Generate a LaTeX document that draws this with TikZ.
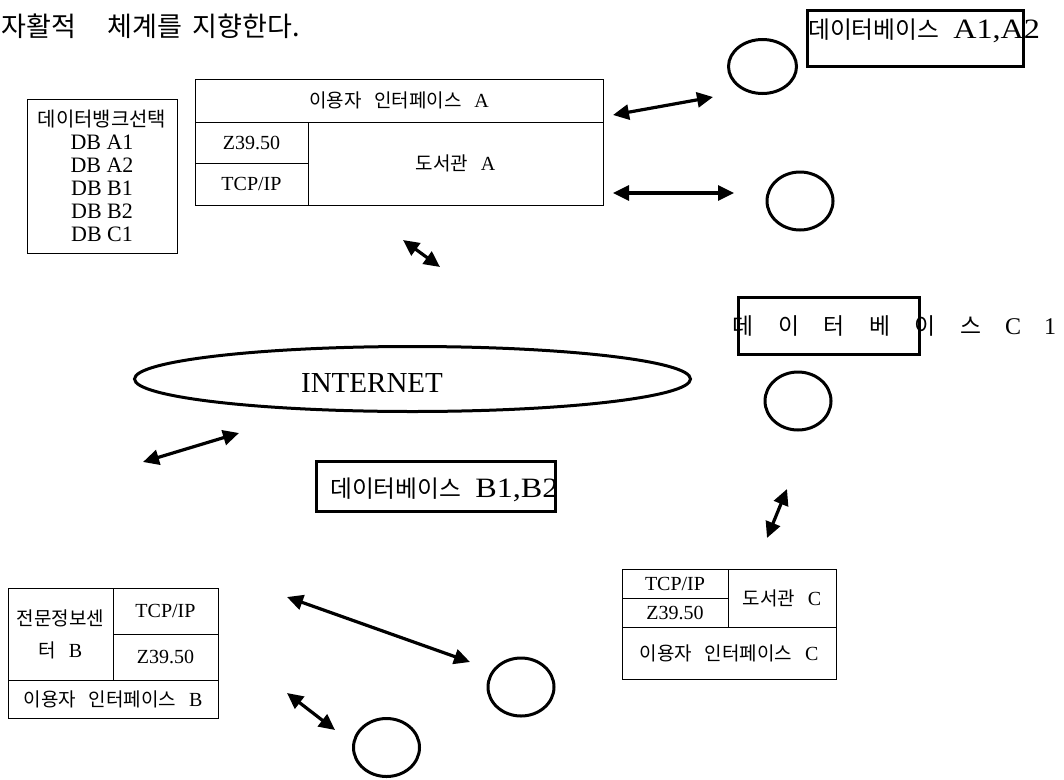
\documentclass[tikz,border=0pt]{standalone}
\usepackage{fontspec}
\setmainfont{Liberation Serif}
\newfontfamily\kr{Noto Sans CJK KR}[Scale=0.95,WordSpace=3]
\newfontfamily\wide{Liberation Serif}[FakeStretch=1.15]
\usetikzlibrary{shapes.geometric,arrows.meta}
% Korean runs are set in the CJK face, Latin runs in the serif face
\newcommand\K[1]{{\kr #1}}
\newcommand\Fs[1]{\fontsize{#1}{#1}\selectfont}
% label of a database box: Korean word, then the wide Latin part
\newcommand\DBname[1]{{\kr\Fs{25}데이터베이스}\hspace*{14pt}{\wide #1}}
\begin{document}
\begin{tikzpicture}[x=1pt,y=-1pt,
  cell/.style={draw=black, line width=0.9pt, inner sep=0pt, align=center, font=\Fs{20}},
  dbbox/.style={draw=black, line width=3.2pt, inner sep=0pt},
  dblabel/.style={inner sep=0pt, anchor=west, font=\Fs{28}},
  site/.style={ellipse, draw=black, line width=3pt, inner sep=0pt, minimum width=66pt, minimum height=58pt},
  link/.style={line width=3.2pt, {Triangle[length=16pt,width=15pt]}-{Triangle[length=16pt,width=15pt]}}]
\useasboundingbox (0,0) rectangle (1064,779);

% heading line
\node[inner sep=0pt, anchor=west, font=\Fs{28.5}] (title) at (1,26)
  {\K{자활적}\hspace*{32pt}\K{체계를}\hspace*{10pt}\K{지향한다.}};

% data bank selection list
\node[cell, font=\fontsize{22}{23}\selectfont, minimum width=150pt, minimum height=154pt] (bank) at (102,176)
  {{\kr\fontsize{21}{23}\selectfont 데이터뱅크선택}\\DB A1\\DB A2\\DB B1\\DB B2\\DB C1};

% library A
\node[cell, minimum width=408pt, minimum height=43pt] (uiA) at (399,100.5) {\K{이용자 인터페이스 }A};
\node[cell, minimum width=113pt, minimum height=41pt] (zA) at (251.5,142.5) {Z39.50};
\node[cell, minimum width=113pt, minimum height=42pt] (tA) at (251.5,184) {TCP/IP};
\node[cell, minimum width=295pt, minimum height=83pt] (libA) at (455.5,163.5) {\K{도서관 }A};

% database A
\node[dbbox, minimum width=216pt, minimum height=56pt] (dbA) at (915.5,38.5) {};
\node[dblabel] (dbAtxt) at (808,31) {\DBname{A1,A2}};
\node[site, minimum height=54pt, minimum width=68pt] (s1) at (762.5,66.5) {};
\node[site] (s2) at (800,201) {};

% internet
\node[ellipse, draw=black, line width=3pt, inner sep=0pt, minimum width=556pt, minimum height=65pt] (net) at (412.5,379) {};
\node[inner sep=0pt, font=\Fs{29}] (netlbl) at (372,383) {INTERNET};

% database C
\node[dbbox, minimum width=181pt, minimum height=57pt] (dbC) at (829,326) {};
\node[inner sep=0pt, anchor=west, font=\Fs{24}] (dbCtxt) at (720.25,326)
  {\K{\makebox[45.5pt]{데}\makebox[45.5pt]{이}\makebox[45.5pt]{터}\makebox[45.5pt]{베}\makebox[45.5pt]{이}\makebox[45.5pt]{스}}\makebox[39.5pt]{C}\makebox[34.5pt]{1}};
\node[site] (s3) at (798,401) {};

% database B
\node[dbbox, minimum width=239pt, minimum height=50pt] (dbB) at (436,486.5) {};
\node[dblabel] (dbBtxt) at (330,490) {\DBname{B1,B2}};

% library C
\node[cell, minimum width=106pt, minimum height=29pt] (tC) at (675,583.5) {TCP/IP};
\node[cell, minimum width=106pt, minimum height=29pt] (zC) at (675,612.5) {Z39.50};
\node[cell, minimum width=108pt, minimum height=58pt] (libC) at (782,598) {\K{도서관 }C};
\node[cell, minimum width=214pt, minimum height=52pt] (uiC) at (729,653) {\K{이용자 인터페이스 }C};

% information centre B
\node[cell, font=\fontsize{20}{32}\selectfont, minimum width=105pt, minimum height=92pt] (ctrB) at (60.5,634) {\K{전문정보센}\\\K{터 }B};
\node[cell, minimum width=105pt, minimum height=46pt] (tB) at (165.5,611) {TCP/IP};
\node[cell, minimum width=105pt, minimum height=46pt] (zB) at (165.5,657) {Z39.50};
\node[cell, minimum width=210pt, minimum height=38pt] (uiB) at (113,699) {\K{이용자 인터페이스 }B};

\node[site] (s5) at (521,687) {};
\node[site] (s4) at (386.5,747.5) {};

% two-headed links
\coordinate (a1s) at (613,115);  \coordinate (a1e) at (713,97);
\coordinate (a2s) at (613,193);  \coordinate (a2e) at (734,193);
\coordinate (a3s) at (403,240);  \coordinate (a3e) at (440,267);
\coordinate (a4s) at (143,462);  \coordinate (a4e) at (239,433);
\coordinate (a5s) at (787,489);  \coordinate (a5e) at (767,538);
\coordinate (a6s) at (287,597);  \coordinate (a6e) at (470,662);
\coordinate (a7s) at (287,693);  \coordinate (a7e) at (335,730);
\foreach \n in {1,...,7} \draw[link] (a\n s) -- (a\n e);
\end{tikzpicture}
\end{document}
